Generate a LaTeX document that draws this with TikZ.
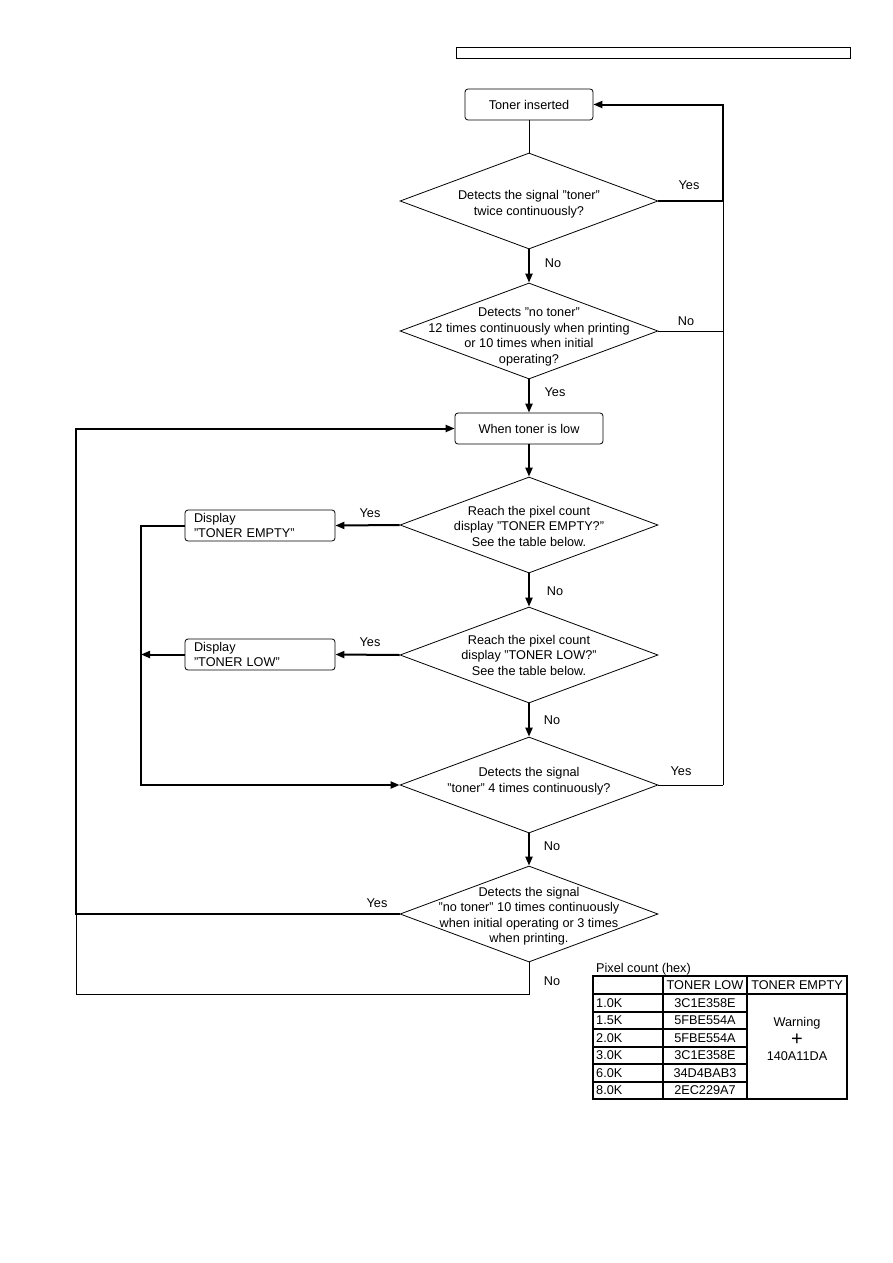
\documentclass[tikz,border=0pt]{standalone}
\usepackage{fontspec}
\setmainfont{Liberation Sans}
\usetikzlibrary{shapes.geometric,arrows.meta}
\begin{document}
\begin{tikzpicture}[x=1pt,y=-1pt,
  every node/.style={font=\fontsize{12.7}{15.5}\selectfont, inner sep=0pt},
  dia/.style={draw, shape=diamond, minimum width=258pt, minimum height=96pt, inner sep=0pt, line width=0.8pt},
  dtxt/.style={align=center},
  rbox/.style={draw, rounded corners=3pt, line width=0.8pt, minimum height=31pt, align=center},
  lbox/.style={draw, rounded corners=3pt, line width=0.8pt, minimum height=31pt, minimum width=150pt, text width=132pt, align=left, inner xsep=9pt},
  thk/.style={line width=2pt},
  thn/.style={line width=0.8pt},
  arr/.style={-{Triangle[length=9pt,width=7pt]}},
  lbl/.style={anchor=center},
  tline/.style={line width=1.3pt}
]
\useasboundingbox (0,0) rectangle (893,1263);

% header box
\node[draw, line width=0.8pt, minimum width=394pt, minimum height=11pt] (hdr) at (653,52.5) {};

% nodes
\node[rbox, minimum width=128pt] (b1) at (529,104.5) {Toner inserted};
\node[dia] (d1) at (529,201) {};
\node[dtxt] (t1) at ([yshift=-3pt]d1.center) {Detects the signal "toner"\\twice continuously?};
\node[dia] (d2) at (529,331) {};
\node[dtxt] (t2) at ([yshift=-6pt]d2.center) {Detects "no toner"\\12 times continuously when printing\\or 10 times when initial\\operating?};
\node[rbox, minimum width=148pt] (b2) at (529,428.5) {When toner is low};
\node[dia] (d3) at (529,525) {};
\node[dtxt] (t3) at ([yshift=-1pt]d3.center) {Reach the pixel count\\display "TONER EMPTY?"\\See the table below.};
\node[dia] (d4) at (529,655) {};
\node[dtxt] (t4) at (d4) {Reach the pixel count\\display "TONER LOW?"\\See the table below.};
\node[dia] (d5) at (529,785) {};
\node[dtxt] (t5) at ([yshift=4pt]d5.center) {Detects the signal\\"toner" 4 times continuously?};
\node[dia] (d6) at (529,914) {};
\node[dtxt] (t6) at ([yshift=-2pt]d6.center) {Detects the signal\\"no toner" 10 times continuously\\when initial operating or 3 times\\when printing.};
\node[lbox] (e1) at (260,525.5) {Display\\"TONER EMPTY"};
\node[lbox] (e2) at (260,654.5) {Display\\"TONER LOW"};

\coordinate (R) at (723,0);
\coordinate (L) at (76,0);
\coordinate (M) at (141,0);
\coordinate (B) at (0,994);

% main vertical flow
\draw[thn] (b1.south) -- (d1.north);
\draw[thk,arr] (d1.south) -- (d2.north);
\draw[thk,arr] (d2.south) -- (b2.north);
\draw[thk,arr] (b2.south) -- (d3.north);
\draw[thk,arr] (d3.south) -- (d4.north);
\draw[thk,arr] (d4.south) -- (d5.north);
\draw[thk,arr] (d5.south) -- (d6.north);

% right return
\draw[thk,arr] (d1.east) -- (d1.east -| R) |- (b1.east);
\draw[thn] (d1.east -| R) -- (d5.east -| R);
\draw[thn] (d2.east) -- (d2.east -| R);
\draw[thn] (d5.east) -- (d5.east -| R);

% display branches
\draw[thk,arr] (d3.west) -- (e1.east);
\draw[thk,arr] (d4.west) -- (e2.east);
\draw[thk,arr] (e1.west) -| (M |- d5.west) -- (d5.west);
\draw[thk,arr] (e2.west) -- (e2.west -| M);

% left return
\draw[thk,arr] (d6.west) -- (d6.west -| L) |- (b2.west);
\draw[thn] (d6.south) -- (d6.south |- B) -| (d6.west -| L);

% labels
\node[lbl] (y1) at (689,185) {Yes};
\node[lbl] (n1) at (553,263) {No};
\node[lbl] (n2) at (686,321) {No};
\node[lbl] (y2) at (555,392) {Yes};
\node[lbl] (y3) at (370,513) {Yes};
\node[lbl] (n3) at (555,591) {No};
\node[lbl] (y4) at (370,642) {Yes};
\node[lbl] (n4) at (552,720) {No};
\node[lbl] (y5) at (681,771) {Yes};
\node[lbl] (n5) at (552,846) {No};
\node[lbl] (y6) at (377,903) {Yes};
\node[lbl] (n6) at (552,981) {No};

% table
\node[anchor=west] (tcap) at (596,969) {Pixel count (hex)};
\draw[tline] (593,976) rectangle (847,1099);
\draw[tline] (663,976) -- (663,1099);
\draw[tline] (747,976) -- (747,1099);
\draw[tline] (593,994) -- (847,994);
\foreach \yy in {1012,1029,1047,1064,1082} { \draw[tline] (593,\yy) -- (747,\yy); }
\node (h1) at (705,985) {TONER LOW};
\node (h2) at (797,985) {TONER EMPTY};
\foreach \k/\v [count=\i from 0] in {1.0K/3C1E358E,1.5K/5FBE554A,2.0K/5FBE554A,3.0K/3C1E358E,6.0K/34D4BAB3,8.0K/2EC229A7} {
  \node[anchor=west] (k\i) at (596,1003+17.5*\i) {\k};
  \node (v\i) at (705,1003+17.5*\i) {\v};
}
\node (w1) at (797,1023) {Warning};
\node[font=\fontsize{20}{20}\selectfont] (w2) at (797,1039.5) {+};
\node (w3) at (797,1056) {140A11DA};
\end{tikzpicture}
\end{document}
